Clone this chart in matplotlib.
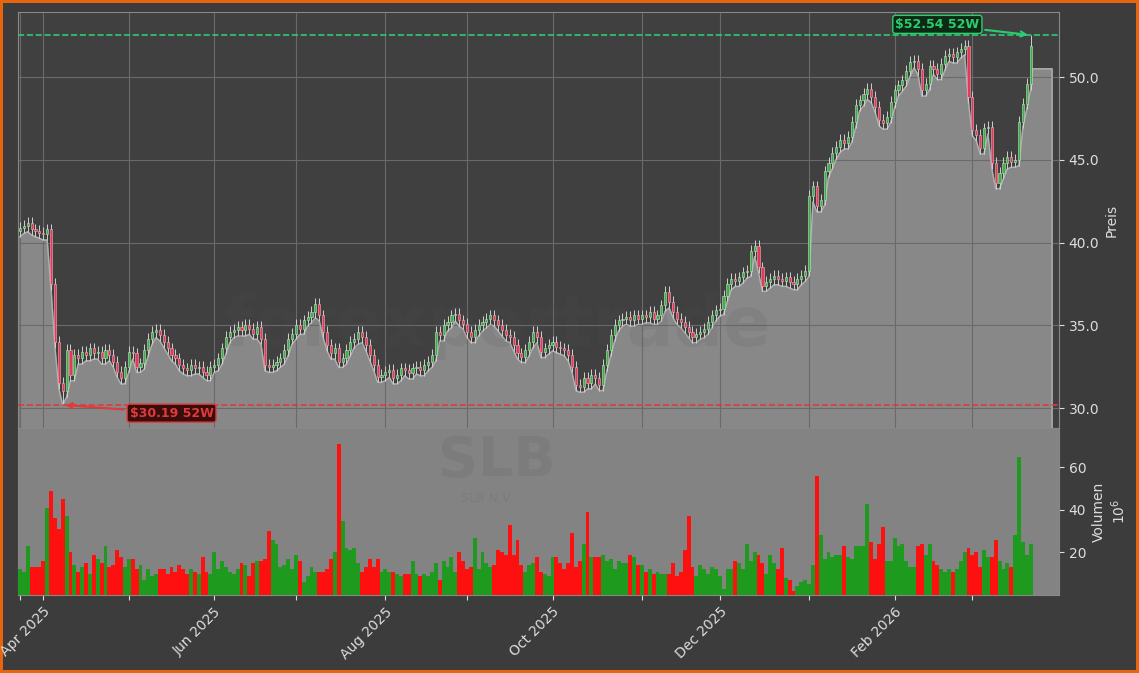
import numpy as np
import pandas as pd
import matplotlib
matplotlib.use("Agg")
import matplotlib.pyplot as plt

# ---- data ----
closes = [
    40.9, 41.0, 41.2, 40.8, 40.7,
    40.6, 40.5, 40.8, 37.5, 34.0,
    31.5, 31.0, 33.5, 32.0, 33.2,
    33.0, 33.4, 33.2, 33.6, 33.3,
    33.4, 33.0, 33.5, 33.2, 32.8,
    32.2, 31.8, 32.5, 33.4, 33.3,
    32.5, 32.7, 33.5, 34.2, 34.6,
    34.7, 34.4, 34.0, 33.6, 33.2,
    33.0, 32.6, 32.4, 32.3, 32.6,
    32.4, 32.5, 32.2, 32.0, 32.5,
    32.6, 33.0, 33.6, 34.3, 34.6,
    34.7, 34.9, 34.7, 35.0, 34.8,
    34.5, 34.9, 34.2, 32.6, 32.5,
    32.6, 32.8, 33.0, 33.5, 34.2,
    34.5, 35.0, 34.8, 35.3, 35.5,
    35.8, 36.3, 35.6, 34.6, 33.8,
    33.3, 33.6, 32.8, 33.0, 33.5,
    34.0, 34.2, 34.6, 34.3, 33.8,
    33.2, 32.6, 31.9, 32.0, 32.2,
    32.3, 31.8, 32.0, 32.4, 32.3,
    32.1, 32.4, 32.5, 32.3, 32.6,
    32.8, 33.2, 34.6, 34.4, 35.0,
    35.2, 35.6, 35.7, 35.3, 35.1,
    34.6, 34.3, 34.7, 35.0, 35.2,
    35.4, 35.6, 35.3, 35.0, 34.7,
    34.4, 34.3, 33.8, 33.3, 33.1,
    33.5, 34.0, 34.6, 34.3, 33.4,
    33.6, 33.8, 34.0, 33.7, 33.6,
    33.5, 33.2, 32.5, 31.4, 31.3,
    31.8, 31.5, 32.0, 31.8, 31.4,
    32.6, 33.5, 34.4, 35.0, 35.3,
    35.4, 35.5, 35.3, 35.6, 35.4,
    35.6, 35.5, 35.8, 35.4, 35.6,
    36.2, 37.0, 36.4, 35.8, 35.4,
    35.2, 34.9, 34.6, 34.3, 34.5,
    34.6, 34.8, 35.2, 35.6, 35.9,
    36.0, 36.8, 37.5, 37.8, 37.7,
    37.9, 38.2, 38.3, 39.5, 39.8,
    38.5, 37.4, 37.6, 37.8, 38.0,
    37.8, 37.7, 37.9, 37.6, 37.5,
    37.8, 38.0, 38.3, 42.8, 43.4,
    42.2, 42.6, 44.3, 44.8, 45.4,
    45.8, 46.2, 46.0, 46.4, 47.3,
    48.3, 48.6, 49.0, 49.3, 48.8,
    48.2, 47.4, 47.2, 47.6, 48.5,
    49.2, 49.5, 49.8, 50.4, 50.9,
    51.0, 50.5, 49.2, 49.6, 50.7,
    50.5, 50.2, 50.8, 51.3, 51.4,
    51.2, 51.5, 51.7, 51.9, 48.8,
    46.8, 46.5, 45.7, 46.9, 47.0,
    44.8, 43.6, 44.2, 44.8, 45.2,
    44.9, 45.0, 47.3, 48.4, 49.6,
    51.9,
]
first_open = 40.7
volumes = [
    12, 11, 23, 13, 13, 13, 16, 41, 49, 36, 31, 45, 37, 20, 14, 11, 13, 15, 10, 19,
    17, 15, 23, 13, 14, 21, 18, 13, 17, 17, 12, 14, 7, 12, 9, 10, 12, 12, 10, 13,
    11, 14, 12, 10, 12, 11, 10, 18, 11, 10, 20, 12, 16, 13, 11, 10, 12, 15, 14, 9,
    15, 16, 16, 17, 30, 26, 24, 13, 14, 17, 12, 19, 16, 6, 9, 13, 11, 11, 11, 12,
    17, 20, 71, 35, 22, 21, 22, 15, 11, 13,
    17, 13, 17, 11, 12, 11, 11, 10, 9, 10, 10, 16, 10, 9, 10, 9, 11, 15, 7, 16,
    13, 18, 11, 20, 16, 12, 13, 27, 12, 20, 15, 13, 14, 21, 20, 19, 33, 19, 26, 14,
    11, 14, 15, 18, 11, 10, 9, 18, 18, 15, 12, 15, 29, 13, 16, 24, 39, 18, 18, 18,
    19, 16, 17, 12, 16, 15, 15, 19, 18, 14, 14, 11, 12, 10, 11, 10, 10, 10, 15, 9,
    11, 21, 37, 13, 9, 14, 12, 10, 13,
    12, 9, 3, 12, 12, 16, 15, 12, 24, 16, 20, 19, 15, 10, 19, 15, 12, 22, 8, 7,
    2, 4, 6, 7, 5, 14, 56, 28, 17, 20, 18, 19, 19, 23, 18, 17, 23, 23, 23, 43,
    25, 17, 24, 32, 16, 16, 27, 23, 24, 16, 13, 13, 23, 24, 19, 24, 16, 14, 12, 11,
    12, 11, 12, 16, 20, 22, 19, 20, 13, 21, 18, 18, 26, 16, 12, 15, 13, 28, 65, 25,
    19, 24,
]
low_52w = 30.19
high_52w = 52.54
tail_level = 50.5
n = len(closes)
volumes = volumes[:n]
dates = pd.bdate_range("2025-03-24", periods=n)

# ---- derived ----
closes = np.array(closes)
opens = np.concatenate([[first_open], closes[:-1]])
lows = np.minimum(opens, closes) - 0.35
highs = np.maximum(opens, closes) + 0.35
lows[np.argmin(closes)] = low_52w
highs[-1] = high_52w
idx = np.arange(n)
up = closes >= opens
nv = len(volumes)

fig = plt.figure(figsize=(11.39, 6.73), dpi=100)
fig.patch.set_facecolor("#3c3c3c")
fig.patch.set_edgecolor("#e8650f")
fig.patch.set_linewidth(4)

L, W = 0.0158, 0.914
ax = fig.add_axes([L, 0.364, W, 0.618])
axv = fig.add_axes([L, 0.116, W, 0.248], sharex=ax)
ax.set_facecolor("#404040")
axv.set_facecolor("#838383")

fill_y = np.append(lows, [tail_level, tail_level])
fill_x = np.append(idx, [n - 0.5, n + 4.5])
fill_y[-3] = min(fill_y[-3], tail_level)
ax.fill_between(fill_x, fill_y, 0, color="#888888", zorder=1)
ax.plot(np.append(fill_x, fill_x[-1]), np.append(fill_y, 0), color="#b0b0b0", lw=1, zorder=2)

ax.text(0.46, 0.245, "forexportrade", transform=ax.transAxes, fontsize=50, fontweight="bold",
        color="#555555", alpha=0.13, ha="center", va="center", zorder=2)

ax.vlines(idx, lows, highs, color="#d0d0d0", lw=0.7, zorder=3)
body_b = np.minimum(opens, closes)
body_h = np.maximum(np.abs(closes - opens), 0.08)
ax.bar(idx[up], body_h[up], bottom=body_b[up], width=0.55, color="#3fae4a", edgecolor="#bfe8bf", lw=0.4, zorder=4)
ax.bar(idx[~up], body_h[~up], bottom=body_b[~up], width=0.55, color="#e8385a", edgecolor="#f0b0bc", lw=0.4, zorder=4)

ax.axhline(high_52w, color="#2ecc71", ls="--", lw=1.2, zorder=5)
ax.axhline(low_52w, color="#e03a3a", ls="--", lw=1.2, zorder=5)
imax = n - 1
imin = int(np.argmin(lows))
ax.annotate(f"${high_52w:.2f} 52W", xy=(imax, high_52w), xytext=(imax - 24, high_52w + 0.65),
            color="#2ecc71", fontsize=9, fontweight="bold", ha="center", va="center",
            bbox=dict(boxstyle="round,pad=0.2", fc="#0d2a14", ec="#2ecc71", lw=1),
            arrowprops=dict(arrowstyle="->", color="#2ecc71", lw=1.5), zorder=6)
ax.annotate(f"${low_52w:.2f} 52W", xy=(imin, low_52w), xytext=(imin + 28, low_52w - 0.5),
            color="#e03a3a", fontsize=9, fontweight="bold", ha="center", va="center",
            bbox=dict(boxstyle="round,pad=0.2", fc="#3a0d0d", ec="#e03a3a", lw=1),
            arrowprops=dict(arrowstyle="->", color="#e03a3a", lw=1.5), zorder=6)

ax.set_ylim(28.79, 53.93)
ax.set_xlim(-0.5, 267.3)
ax.yaxis.tick_right()
ax.yaxis.set_label_position("right")
ax.set_yticks([30, 35, 40, 45, 50])
ax.set_yticklabels(["30.0", "35.0", "40.0", "45.0", "50.0"])
ax.set_ylabel("Preis", color="#dddddd", fontsize=10, labelpad=4)
ax.tick_params(colors="#dddddd", labelsize=10)
ax.tick_params(axis="x", labelbottom=False, length=0)
ax.grid(True, color="#6a6a6a", lw=0.8)
for s in ax.spines.values():
    s.set_color("#888888")

vcol = np.where(up[:nv], "#1e9a1e", "#ff1010")
axv.bar(idx[:nv], volumes, width=1.0, color=vcol, zorder=3)
axv.set_ylim(0, 78.5)
axv.yaxis.tick_right()
axv.yaxis.set_label_position("right")
axv.set_yticks([20, 40, 60])
axv.set_ylabel("Volumen\n$10^6$", color="#dddddd", fontsize=10, labelpad=4)
axv.tick_params(colors="#dddddd", labelsize=10)
axv.text(0.46, 0.80, "SLB", transform=axv.transAxes, fontsize=40, fontweight="bold",
         color="#787878", alpha=0.6, ha="center", va="center")
axv.text(0.45, 0.58, "SLB N.V.", transform=axv.transAxes, fontsize=9,
         color="#787878", alpha=0.6, ha="center", va="center")
for s in axv.spines.values():
    s.set_color("#888888")

months = pd.Series(idx, index=dates).groupby([dates.year, dates.month]).first()
mticks = list(months.values)
mlabels = [dates[i].strftime("%b %Y") if dates[i].month % 2 == 0 else "" for i in mticks]
axv.set_xticks(mticks)
axv.set_xticklabels(mlabels, rotation=45, ha="right", rotation_mode="anchor")

fig.savefig("out.png", dpi=100, facecolor=fig.get_facecolor(), edgecolor=fig.get_edgecolor())
